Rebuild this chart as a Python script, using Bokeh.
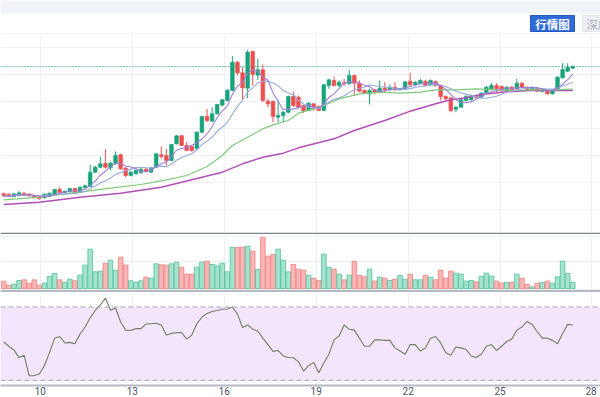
import numpy as np
import pandas as pd
from bokeh.plotting import figure
from bokeh.layouts import column
from bokeh.models import Range1d, FixedTicker, Span, BoxAnnotation, ColumnDataSource
from bokeh.core.properties import value
from bokeh.embed import file_html
from bokeh.resources import INLINE

# ---------------- data (4h candles) ----------------
opens = [1.40, 1.39, 1.32, 1.35, 1.42, 1.39, 1.34, 1.32, 1.28, 1.32,
         1.38, 1.53, 1.43, 1.46, 1.56, 1.44, 1.58, 1.62, 2.05, 2.20,
         2.31, 2.18, 2.30, 2.57, 2.17, 1.95, 2.00, 2.04, 2.14, 2.05,
         2.20, 2.57, 2.55, 2.40, 2.90, 3.14, 2.85, 2.82, 2.75, 3.25,
         3.72, 3.58, 3.80, 4.06, 4.20, 4.50, 5.35, 5.03, 4.57, 5.67,
         4.96, 5.12, 4.18, 4.17, 3.70, 3.75, 3.85, 4.32, 4.30, 4.05,
         3.90, 4.10, 4.02, 3.90, 4.65, 4.80, 4.65, 4.73, 4.70, 4.95,
         4.72, 4.50, 4.40, 4.52, 4.44, 4.57, 4.53, 4.60, 4.52, 4.55,
         4.78, 4.68, 4.70, 4.78, 4.67, 4.77, 4.65, 4.32, 4.28, 3.94,
         4.00, 4.20, 4.22, 4.35, 4.30, 4.43, 4.55, 4.65, 4.62, 4.50,
         4.60, 4.55, 4.72, 4.60, 4.53, 4.57, 4.47, 4.52, 4.40, 4.50,
         4.88, 5.08, 5.17]
closes = [1.34, 1.32, 1.40, 1.43, 1.35, 1.34, 1.28, 1.26, 1.39, 1.42,
          1.53, 1.44, 1.48, 1.56, 1.42, 1.60, 1.64, 2.05, 2.20, 2.30,
          2.20, 2.32, 2.55, 2.15, 1.95, 2.05, 2.10, 2.14, 2.07, 2.18,
          2.60, 2.52, 2.40, 2.88, 3.14, 2.85, 2.70, 2.70, 3.25, 3.72,
          3.60, 3.80, 4.08, 4.22, 4.50, 5.35, 5.03, 4.58, 5.65, 4.98,
          5.12, 4.20, 4.10, 3.72, 3.75, 3.85, 4.32, 4.05, 4.00, 3.88,
          4.12, 3.95, 3.90, 4.67, 4.82, 4.65, 4.75, 4.70, 4.95, 4.72,
          4.48, 4.42, 4.50, 4.44, 4.57, 4.52, 4.60, 4.52, 4.56, 4.76,
          4.67, 4.75, 4.80, 4.65, 4.80, 4.65, 4.32, 4.25, 3.90, 4.00,
          4.22, 4.32, 4.35, 4.28, 4.42, 4.60, 4.65, 4.55, 4.50, 4.60,
          4.52, 4.72, 4.60, 4.52, 4.60, 4.48, 4.52, 4.40, 4.50, 4.90,
          5.13, 5.20, 5.22]
highs = [1.44, 1.41, 1.42, 1.48, 1.44, 1.42, 1.36, 1.34, 1.41, 1.44,
         1.55, 1.60, 1.50, 1.58, 1.58, 1.62, 1.68, 2.28, 2.24, 2.51,
         2.74, 2.36, 2.67, 2.60, 2.20, 2.10, 2.14, 2.18, 2.18, 2.20,
         2.62, 2.82, 2.75, 2.90, 3.16, 3.16, 2.95, 2.84, 3.28, 3.74,
         3.95, 4.00, 4.10, 4.25, 4.55, 5.53, 5.38, 5.20, 5.72, 5.70,
         5.45, 5.28, 4.25, 4.20, 4.22, 3.88, 4.35, 4.45, 4.35, 4.08,
         4.15, 4.12, 4.05, 4.70, 4.85, 4.92, 4.80, 4.85, 5.12, 4.98,
         4.80, 4.53, 4.55, 4.55, 4.80, 4.75, 4.68, 4.75, 4.58, 4.78,
         5.03, 4.78, 4.85, 4.82, 4.83, 4.80, 4.68, 4.35, 4.30, 4.03,
         4.24, 4.36, 4.38, 4.38, 4.45, 4.63, 4.72, 4.72, 4.65, 4.63,
         4.63, 4.85, 4.75, 4.62, 4.62, 4.60, 4.55, 4.54, 4.52, 4.92,
         5.32, 5.32, 5.25]
lows = [1.30, 1.30, 1.30, 1.33, 1.33, 1.32, 1.27, 1.22, 1.26, 1.30,
        1.36, 1.42, 1.41, 1.44, 1.38, 1.42, 1.56, 1.60, 2.02, 2.18,
        2.16, 2.10, 2.28, 2.12, 1.90, 1.92, 1.98, 2.00, 2.05, 2.03,
        2.18, 2.45, 2.25, 2.38, 2.88, 2.83, 2.68, 2.66, 2.72, 3.22,
        3.55, 3.56, 3.78, 4.04, 4.18, 4.48, 4.95, 4.22, 4.27, 4.65,
        4.82, 4.15, 4.00, 3.55, 3.55, 3.55, 3.82, 4.00, 3.95, 3.82,
        3.88, 3.90, 3.88, 3.88, 4.55, 4.62, 4.60, 4.65, 4.68, 4.35,
        4.45, 4.40, 4.08, 4.40, 4.42, 4.45, 4.48, 4.50, 4.50, 4.53,
        4.65, 4.65, 4.68, 4.62, 4.65, 4.62, 4.20, 4.22, 3.85, 3.85,
        3.98, 4.18, 4.20, 4.25, 4.28, 4.40, 4.53, 4.45, 4.48, 4.47,
        4.50, 4.53, 4.58, 4.50, 4.50, 4.46, 4.45, 4.38, 4.38, 4.48,
        4.86, 5.05, 5.15]
volumes = [22, 10, 13, 24, 26, 16, 26, 10, 16, 36,
           45, 26, 18, 28, 23, 40, 70, 118, 50, 52,
           76, 85, 55, 94, 70, 23, 18, 23, 34, 31,
           74, 71, 70, 74, 79, 64, 43, 43, 64, 79,
           82, 72, 68, 76, 50, 124, 123, 124, 127, 112,
           57, 153, 97, 102, 118, 85, 50, 72, 58, 55,
           40, 31, 24, 103, 64, 58, 43, 26, 40, 82,
           39, 35, 58, 22, 34, 31, 24, 28, 39, 28,
           43, 26, 26, 40, 34, 26, 55, 31, 52, 46,
           43, 22, 24, 20, 36, 46, 37, 22, 16, 18,
           18, 43, 31, 12, 5, 16, 18, 22, 16, 35,
           82, 45, 19]
rsi = [50.9, 48.6, 46.5, 42.5, 43.7, 32.5, 32.6, 33.5, 38.1, 45.1,
       53.0, 53.9, 50.4, 50.7, 50.0, 55.3, 59.1, 64.0, 68.2, 71.1,
       74.9, 68.2, 69.3, 61.8, 57.4, 57.2, 58.2, 58.2, 60.7, 60.9,
       61.1, 60.2, 54.7, 55.6, 56.0, 56.1, 52.5, 54.7, 60.9, 64.4,
       66.5, 67.5, 68.1, 68.8, 68.9, 70.0, 66.1, 58.8, 60.2, 57.9,
       56.8, 53.0, 49.5, 45.8, 46.3, 43.3, 42.5, 42.3, 40.2, 35.1,
       38.1, 39.8, 34.2, 39.5, 44.2, 52.1, 54.2, 60.2, 57.9, 57.4,
       53.0, 48.6, 48.6, 52.1, 52.1, 51.8, 51.8, 47.7, 46.0, 44.2,
       49.5, 49.5, 46.0, 47.7, 53.0, 53.9, 50.4, 45.1, 43.7, 48.2,
       47.7, 46.8, 43.3, 42.5, 44.2, 48.6, 49.5, 46.3, 48.6, 51.2,
       52.5, 57.4, 59.1, 62.1, 60.5, 56.5, 53.0, 53.0, 51.8, 50.0,
       55.6, 60.5, 60.2]
# long moving averages (candle index, value)
ma30_idx = [0, 7, 15, 21, 27, 32, 36, 40, 43, 45, 48, 51, 53, 56, 58,
            61, 63, 66, 70, 74, 78, 82, 85, 89, 93, 97, 100, 104, 108, 112]
ma30_val = [1.22, 1.30, 1.45, 1.57, 1.68, 1.82, 1.95, 2.22, 2.55, 2.85,
            3.10, 3.35, 3.47, 3.60, 3.82, 3.95, 4.05, 4.25, 4.40, 4.45,
            4.42, 4.45, 4.52, 4.52, 4.55, 4.52, 4.50, 4.52, 4.52, 4.54]
ma60_idx = [0, 7, 15, 23, 31, 39, 43, 47, 51, 55, 58, 65, 69, 75, 80,
            85, 88, 91, 94, 98, 101, 104, 108, 112]
ma60_val = [1.08, 1.15, 1.30, 1.42, 1.60, 1.90, 2.05, 2.30, 2.50, 2.62,
            2.78, 3.05, 3.30, 3.60, 3.88, 4.10, 4.22, 4.28, 4.38, 4.45,
            4.48, 4.50, 4.50, 4.50]
day_ticks = [7.2, 25.3, 43.4, 61.5, 79.6, 97.7, 115.6]
day_labels = ["10", "13", "16", "19", "22", "25", "28"]
price_grid = [0.93, 1.74, 2.55, 3.36, 4.17, 4.98, 5.79]
vol_grid = [81, 157]
rsi_grid = [43.3, 56.5]

# ---------------- derived ----------------
o = np.array(opens); c = np.array(closes)
h = np.array(highs); l = np.array(lows)
x = np.arange(len(o))
up = c >= o
UP, DOWN = "#17a37c", "#ee4e4e"
VUP_F, VDN_F = "#a6e3cf", "#f9b6b6"
VUP_L, VDN_L = "#4fc29c", "#f07f7f"
ma5 = pd.Series(c).rolling(5, min_periods=1).mean().values
ma10 = pd.Series(c).rolling(10, min_periods=1).mean().values

src = ColumnDataSource(dict(
    x=x, top=np.maximum(o, c), bottom=np.minimum(o, c), high=h, low=l,
    color=[UP if u else DOWN for u in up],
    vol=volumes,
    vfill=[VUP_F if u else VDN_F for u in up],
    vline=[VUP_L if u else VDN_L for u in up],
))

W = 600
xr = Range1d(-0.65, 117.46)
GRID = "#eef0f4"
FONT = "Roboto"

def base(height, y_range, bottom_border=0, border_color="white"):
    f = figure(width=W, height=height, x_range=xr, y_range=y_range,
               output_backend="svg", toolbar_location=None,
               min_border_left=0, min_border_right=0, min_border_top=0,
               min_border_bottom=bottom_border, border_fill_color=border_color,
               background_fill_color="white", outline_line_color=None)
    f.xaxis.visible = False
    f.yaxis.visible = False
    f.xgrid.ticker = FixedTicker(ticks=day_ticks)
    f.xgrid.grid_line_color = GRID
    f.ygrid.grid_line_color = GRID
    return f

# ---------------- header ----------------
hd = figure(width=W, height=34, x_range=Range1d(0, W), y_range=Range1d(0, 34),
            output_backend="svg", toolbar_location=None, min_border=0,
            outline_line_color=None, background_fill_color="white",
            border_fill_color="white")
hd.axis.visible = False
hd.grid.visible = False
hd.quad(left=[0], right=[W], bottom=[21], top=[34], color="#f0f3f8", line_color=None)
hd.quad(left=[0], right=[W], bottom=[0], top=[1], color="#e0e3ea", line_color=None)
hd.quad(left=[530], right=[574], bottom=[3], top=[19], fill_color="#2f6bd8",
        line_color="#2558c0")
hd.text(x=[552], y=[11], text=["行情图"], text_color="white", text_font_size="11.5px",
        text_font=value("Noto Sans CJK SC"), text_font_style="bold",
        text_align="center", text_baseline="middle")
hd.quad(left=[582], right=[630], bottom=[3], top=[19], fill_color="#eceff4",
        line_color="#e2e5eb")
hd.text(x=[586], y=[11], text=["深度图"], text_color="#a9afba", text_font_size="11.5px",
        text_font=value("Noto Sans CJK SC"), text_align="left", text_baseline="middle")

# ---------------- main price pane ----------------
p = base(200, Range1d(0.24, 6.18), bottom_border=2, border_color="#7f838f")
p.ygrid.ticker = FixedTicker(ticks=price_grid)
p.segment(x0="x", x1="x", y0="low", y1="high", source=src, line_color="color", line_width=1)
p.vbar(x="x", width=0.72, top="top", bottom="bottom", source=src,
       fill_color="color", line_color="color", line_width=0.6)
p.line(ma60_idx, ma60_val, line_color="#b24fb6", line_width=1.5)
p.line(ma30_idx, ma30_val, line_color="#7fca7a", line_width=1.2)
p.line(x, ma10, line_color="#98acde", line_width=1.1)
p.line(x, ma5, line_color="#a27ed8", line_width=1.1)
p.add_layout(Span(location=closes[-1], dimension="width", line_color="#17a37c",
                  line_dash="1 2", line_width=1))

# ---------------- volume pane ----------------
pv = base(58, Range1d(-3, 162), bottom_border=3, border_color="#b6bac3")
pv.ygrid.ticker = FixedTicker(ticks=vol_grid)
pv.vbar(x="x", width=0.9, top="vol", bottom=0, source=src,
        fill_color="vfill", line_color="vline", line_width=0.8)

# ---------------- RSI pane ----------------
pr = base(105, Range1d(27.2, 77.9))
pr.ygrid.ticker = FixedTicker(ticks=rsi_grid)
pr.ygrid.grid_line_color = "#e9e2f0"
pr.add_layout(BoxAnnotation(bottom=30, top=70, fill_color="#f3e5fb", fill_alpha=1.0,
                            line_color=None, level="underlay"))
for lv in (70, 30):
    pr.add_layout(Span(location=lv, dimension="width", line_color="#a4a6ae",
                       line_dash="5 3", line_width=1))
pr.line(x, rsi, line_color="#6f7f60", line_width=1.1)
ax = pr.xaxis[0]
ax.visible = True
ax.ticker = FixedTicker(ticks=day_ticks)
ax.major_label_overrides = {t: s for t, s in zip(day_ticks, day_labels)}
ax.major_tick_line_color = None
ax.minor_tick_line_color = None
ax.major_tick_out = 0
ax.major_tick_in = 0
ax.major_label_standoff = 1
ax.axis_line_color = "#b6bac3"
ax.axis_line_width = 2
ax.major_label_text_font = FONT
ax.major_label_text_font_size = "10px"
ax.major_label_text_color = "#4c525e"

layout = column(hd, p, pv, pr, spacing=0)
open("out.html", "w").write(file_html(layout, INLINE))
